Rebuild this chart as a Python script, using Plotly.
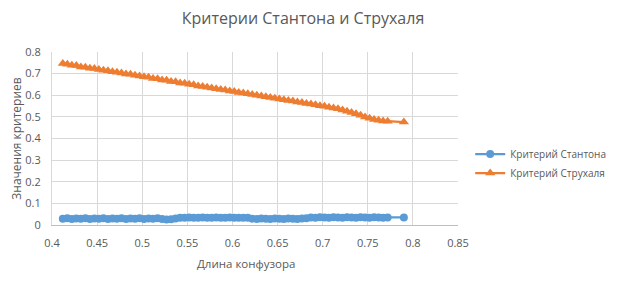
import plotly.graph_objects as go

x_vals = [0.412, 0.417, 0.422, 0.427, 0.432, 0.437, 0.442, 0.447, 0.452, 0.457,
          0.462, 0.467, 0.472, 0.477, 0.482, 0.487, 0.492, 0.497, 0.502, 0.507,
          0.512, 0.517, 0.522, 0.527, 0.532, 0.537, 0.542, 0.547, 0.552, 0.557,
          0.562, 0.567, 0.572, 0.577, 0.582, 0.587, 0.592, 0.597, 0.602, 0.607,
          0.612, 0.617, 0.622, 0.627, 0.632, 0.637, 0.642, 0.647, 0.652, 0.657,
          0.662, 0.667, 0.672, 0.677, 0.682, 0.687, 0.692, 0.697, 0.702, 0.707,
          0.712, 0.717, 0.722, 0.727, 0.732, 0.737, 0.742, 0.747, 0.752, 0.757,
          0.762, 0.767, 0.772, 0.790]

stanton = [0.029, 0.031, 0.028, 0.030, 0.029, 0.031, 0.028, 0.030, 0.029, 0.031,
           0.028, 0.030, 0.029, 0.031, 0.028, 0.030, 0.029, 0.031, 0.028, 0.030,
           0.029, 0.031, 0.028, 0.026, 0.027, 0.030, 0.034, 0.033, 0.035, 0.034,
           0.033, 0.035, 0.034, 0.033, 0.035, 0.034, 0.033, 0.035, 0.034, 0.033,
           0.034, 0.033, 0.029, 0.028, 0.030, 0.029, 0.028, 0.030, 0.029, 0.028,
           0.030, 0.029, 0.028, 0.030, 0.031, 0.035, 0.034, 0.036, 0.035, 0.034,
           0.036, 0.035, 0.034, 0.036, 0.035, 0.034, 0.036, 0.035, 0.034, 0.036,
           0.035, 0.034, 0.035, 0.035]

strouhal = [0.747, 0.743, 0.739, 0.737, 0.731, 0.730, 0.725, 0.724, 0.719, 0.716,
            0.713, 0.709, 0.706, 0.703, 0.698, 0.697, 0.692, 0.689, 0.685, 0.683,
            0.678, 0.676, 0.671, 0.669, 0.664, 0.662, 0.657, 0.655, 0.651, 0.648,
            0.643, 0.641, 0.637, 0.634, 0.630, 0.627, 0.624, 0.620, 0.617, 0.613,
            0.610, 0.607, 0.603, 0.600, 0.596, 0.593, 0.590, 0.586, 0.583, 0.579,
            0.576, 0.573, 0.569, 0.566, 0.562, 0.559, 0.556, 0.552, 0.549, 0.545,
            0.541, 0.537, 0.532, 0.526, 0.520, 0.514, 0.508, 0.500, 0.494, 0.488,
            0.484, 0.481, 0.480, 0.476]

series_names = ["Критерий Стантона", "Критерий Струхаля"]
title_text = "Критерии Стантона и Струхаля"
x_title = "Длина конфузора"
y_title = "Значения критериев"

BLUE = "#5B9BD5"
ORANGE = "#ED7D31"
TXT = "#595959"
FONT = "Open Sans"

fig = go.Figure()
fig.add_trace(go.Scatter(
    x=x_vals, y=stanton, name=series_names[0], mode="lines+markers",
    line=dict(color=BLUE, width=2.25),
    marker=dict(symbol="circle", size=8, color=BLUE),
))
fig.add_trace(go.Scatter(
    x=x_vals, y=strouhal, name=series_names[1], mode="lines+markers",
    line=dict(color=ORANGE, width=2.25),
    marker=dict(symbol="triangle-up", size=9, color=ORANGE),
))

# The page body has an 8px default margin, so the figure is 8px smaller and
# its margins are reduced by 8px on the top/left side.
fig.update_layout(
    width=616, height=279,
    margin=dict(l=44, r=166, t=44, b=62, autoexpand=False),
    paper_bgcolor="white", plot_bgcolor="white",
    font=dict(family=FONT, color=TXT, size=11),
    title=dict(text=title_text, x=295 / 616, xref="container", y=1 - 10 / 279,
               yanchor="middle", xanchor="center",
               font=dict(size=16, color=TXT, family=FONT)),
    showlegend=True,
    legend=dict(x=1.03, y=0.355, xanchor="left", yanchor="middle",
                font=dict(size=10, color=TXT, family=FONT),
                itemwidth=30, tracegroupgap=0, bgcolor="rgba(0,0,0,0)"),
    annotations=[dict(text=x_title, xref="paper", yref="paper",
                      x=(246 - 52) / 406, y=(225 - 263) / 173,
                      xanchor="center", yanchor="middle", showarrow=False,
                      font=dict(size=11.5, color=TXT, family=FONT))],
)
fig.update_xaxes(
    range=[0.4, 0.85], dtick=0.05, tick0=0.4,
    showgrid=True, gridcolor="#D9D9D9", gridwidth=1,
    showline=True, linecolor="#BFBFBF", linewidth=1,
    zeroline=False, ticks="", ticklen=0, automargin=False,
    ticklabelstandoff=8,
    tickfont=dict(size=11, color=TXT, family=FONT),
)
fig.update_yaxes(
    range=[0, 0.8], dtick=0.1, tick0=0,
    showgrid=True, gridcolor="#D9D9D9", gridwidth=1,
    showline=True, linecolor="#D9D9D9", linewidth=1,
    zeroline=False, ticks="", automargin=False,
    ticklabelstandoff=8,
    tickfont=dict(size=11, color=TXT, family=FONT),
    title=dict(text=y_title, font=dict(size=12, color=TXT, family=FONT), standoff=4),
)
fig.write_html("out.html")
